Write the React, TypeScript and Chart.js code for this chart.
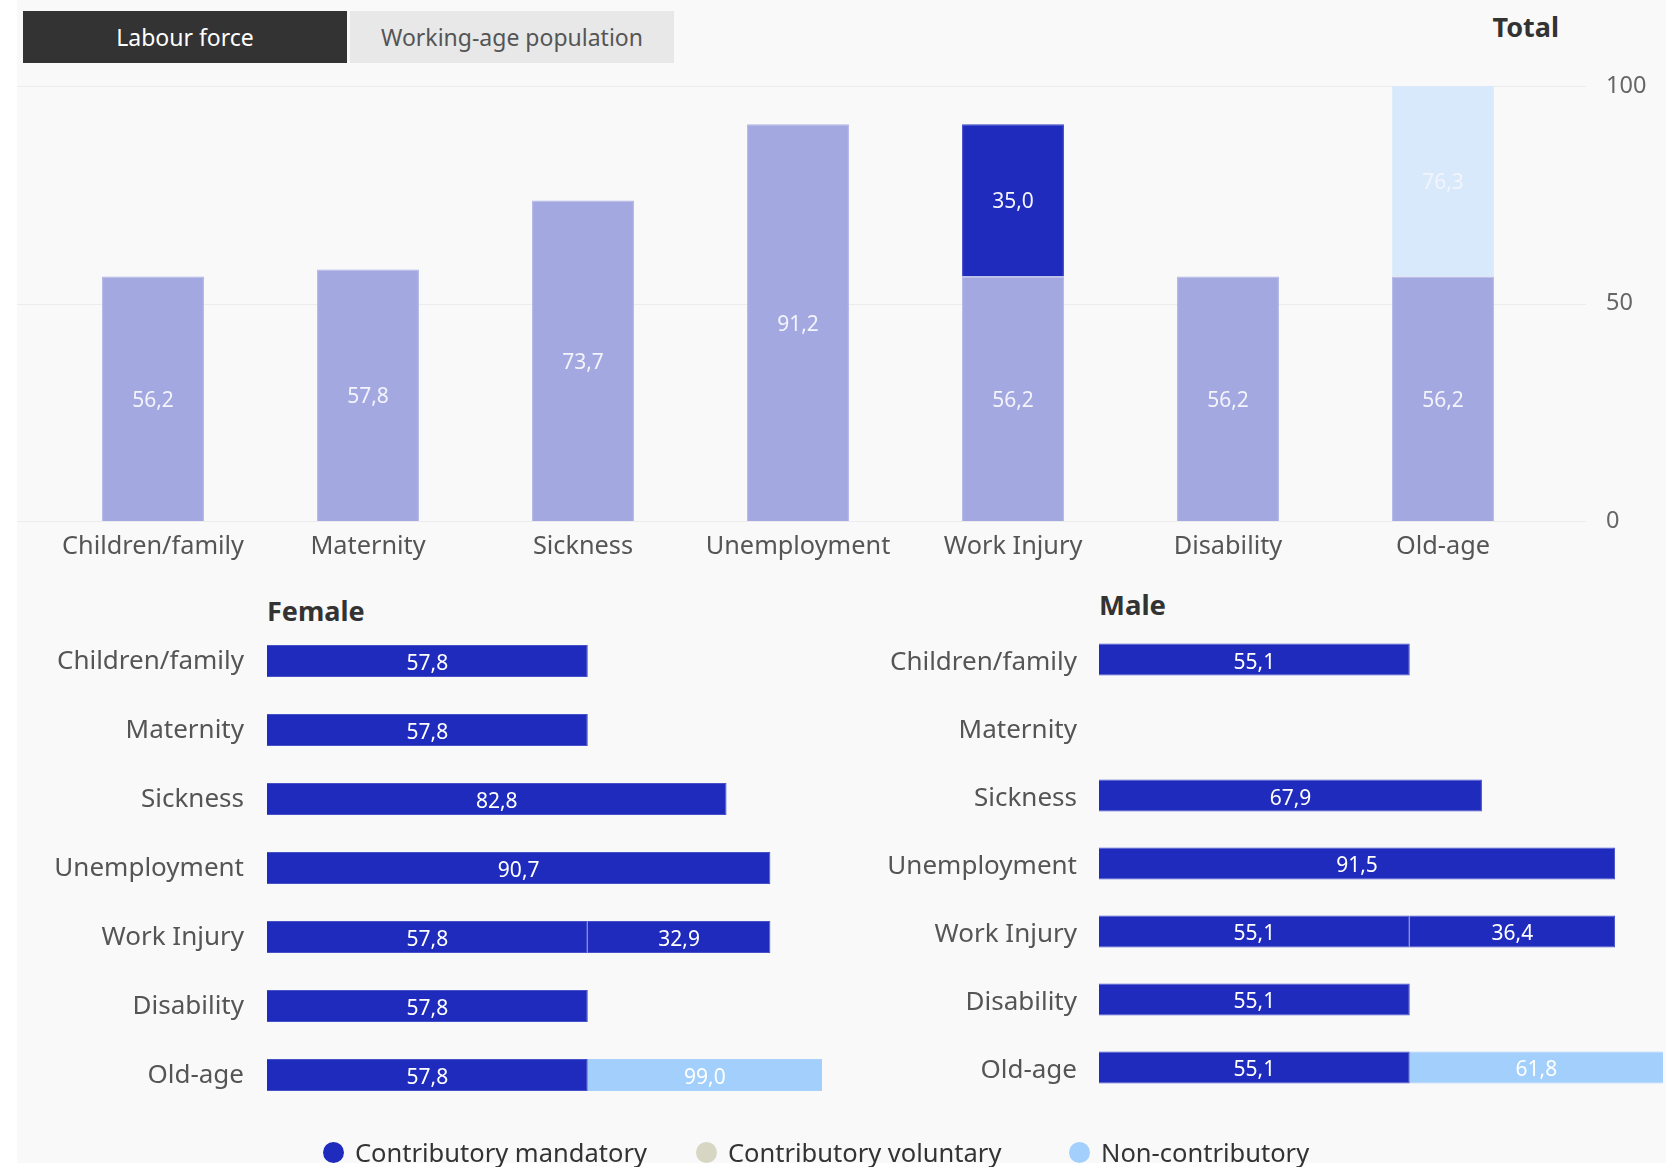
import React, { useEffect, useRef } from 'react';
import { Chart, registerables } from 'chart.js';

Chart.register(...registerables);

const FONT = "'Noto Sans', 'Open Sans', sans-serif";

// ---------- data ----------
const categories = ['Children/family', 'Maternity', 'Sickness', 'Unemployment', 'Work Injury', 'Disability', 'Old-age'];

const totalMandatory = [56.2, 57.8, 73.7, 91.2, 56.2, 56.2, 56.2];
const totalMandatoryExtra = [null, null, null, null, 35.0, null, null];
const totalNonContributory = [null, null, null, null, null, null, 76.3];
const totalTicks = [0, 50, 100];

const femaleMandatory = [57.8, 57.8, 82.8, 90.7, 57.8, 57.8, 57.8];
const femaleMandatoryExtra = [null, null, null, null, 32.9, null, null];
const femaleNonContributory = [null, null, null, null, null, null, 99.0];

const maleMandatory = [55.1, null, 67.9, 91.5, 55.1, 55.1, 55.1];
const maleMandatoryExtra = [null, null, null, null, 36.4, null, null];
const maleNonContributory = [null, null, null, null, null, null, 61.8];

const legendLabels = ['Contributory mandatory', 'Contributory voluntary', 'Non-contributory'];
const tabLabels = ['Labour force', 'Working-age population'];

// ---------- colours ----------
const C_MANDATORY = '#1f2bbd';
const C_MANDATORY_FADED = '#a3a8e1';
const C_VOLUNTARY = '#d6d6c2';
const C_NONCONTRIB = '#a2cffb';
const C_NONCONTRIB_FADED = '#d7e9fb';
const legendColors = [C_MANDATORY, C_VOLUNTARY, C_NONCONTRIB];

const fmt = (v: number) => v.toFixed(1).replace('.', ',');

const segmentLabels = {
  id: 'segmentLabels',
  afterDatasetsDraw(chart: any, _args: any, opts: any) {
    const { ctx, chartArea } = chart;
    const horizontal = chart.options.indexAxis === 'y';
    ctx.save();
    ctx.font = `${opts.size || 21}px ${FONT}`;
    ctx.fillStyle = opts.color || '#ffffff';
    ctx.textAlign = 'center';
    ctx.textBaseline = 'middle';
    chart.data.datasets.forEach((ds: any, di: number) => {
      const meta = chart.getDatasetMeta(di);
      meta.data.forEach((el: any, i: number) => {
        const v = ds.data[i];
        if (v == null) return;
        const p = el.getProps(['x', 'y', 'base'], true);
        let cx: number, cy: number;
        if (horizontal) {
          const a = Math.max(Math.min(p.x, p.base), chartArea.left);
          const b = Math.min(Math.max(p.x, p.base), chartArea.right);
          cx = (a + b) / 2;
          cy = p.y;
        } else {
          const a = Math.max(Math.min(p.y, p.base), chartArea.top);
          const b = Math.min(Math.max(p.y, p.base), chartArea.bottom);
          cx = p.x;
          cy = (a + b) / 2;
        }
        ctx.fillText(fmt(v), cx, cy + (opts.dy || 0));
      });
    });
    ctx.restore();
  },
};

const extendedGrid = {
  id: 'extendedGrid',
  beforeDatasetsDraw(chart: any, _args: any, opts: any) {
    const { ctx } = chart;
    const y = chart.scales.y;
    ctx.save();
    ctx.strokeStyle = opts.color;
    ctx.lineWidth = 1;
    y.ticks.forEach((t: any) => {
      const py = Math.round(y.getPixelForValue(t.value)) + 0.5;
      ctx.beginPath();
      ctx.moveTo(opts.left, py);
      ctx.lineTo(opts.right, py);
      ctx.stroke();
    });
    ctx.restore();
  },
};

function useChart(ref: React.RefObject<HTMLCanvasElement>, makeConfig: () => any) {
  useEffect(() => {
    if (!ref.current) return;
    const chart = new Chart(ref.current, makeConfig());
    return () => chart.destroy();
  }, []);
}

function barDs(label: string, data: (number | null)[], color: string, border: string) {
  return {
    label,
    data,
    backgroundColor: color,
    borderColor: border,
    borderWidth: 1,
    clip: 0,
  };
}

const noGrid = { display: false, drawTicks: false };

function TotalChart() {
  const ref = useRef<HTMLCanvasElement>(null);
  useChart(ref, () => ({
    type: 'bar',
    data: {
      labels: categories,
      datasets: [
        barDs('Contributory mandatory', totalMandatory, C_MANDATORY_FADED, '#b0b4e6'),
        barDs('Contributory mandatory (additional)', totalMandatoryExtra, C_MANDATORY, '#3a45c6'),
        barDs('Non-contributory', totalNonContributory, C_NONCONTRIB_FADED, '#dcecfb'),
      ],
    },
    options: {
      animation: false,
      responsive: false,
      devicePixelRatio: 1,
      layout: { padding: { left: 45.5, top: 86, right: 0, bottom: 0 } },
      datasets: { bar: { barPercentage: 0.474, categoryPercentage: 1 } },
      plugins: {
        legend: { display: false },
        tooltip: { enabled: false },
        title: { display: false },
        segmentLabels: { size: 21, color: '#f4f4fc', dy: 2 },
        extendedGrid: { left: 17, right: 1586, color: '#ececec' },
      },
      scales: {
        x: {
          stacked: true,
          grid: noGrid,
          border: { display: false },
          ticks: { color: '#555', font: { size: 25.3, family: FONT }, padding: 11, maxRotation: 0, autoSkip: false },
          afterFit(s: any) { s.height = 72; },
        },
        y: {
          position: 'right',
          stacked: true,
          min: totalTicks[0],
          max: totalTicks[totalTicks.length - 1],
          afterBuildTicks(s: any) { s.ticks = totalTicks.map((v) => ({ value: v })); },
          grid: noGrid,
          border: { display: false },
          ticks: { color: '#666', font: { size: 23.5, family: FONT }, padding: 55.5 },
          afterFit(s: any) { s.width = 121.5; },
        },
      },
    },
    plugins: [segmentLabels, extendedGrid],
  }));
  return <canvas ref={ref} width={1672} height={593} style={{ position: 'absolute', left: 0, top: 0 }} />;
}

function GenderChart(props: {
  left: number; top: number; width: number; height: number;
  axisWidth: number; tickPad: number; padRight: number; labelOffset: number;
  mandatory: (number | null)[]; extra: (number | null)[]; noncontrib: (number | null)[];
  barPct: number;
}) {
  const ref = useRef<HTMLCanvasElement>(null);
  useChart(ref, () => ({
    type: 'bar',
    data: {
      labels: categories,
      datasets: [
        barDs('Contributory mandatory', props.mandatory, C_MANDATORY, '#4650c9'),
        barDs('Contributory mandatory (additional)', props.extra, C_MANDATORY, '#4650c9'),
        barDs('Non-contributory', props.noncontrib, C_NONCONTRIB, '#a8d2fb'),
      ],
    },
    options: {
      indexAxis: 'y',
      animation: false,
      responsive: false,
      devicePixelRatio: 1,
      layout: { padding: { left: 0, right: props.padRight, top: 0, bottom: 0 } },
      datasets: { bar: { barPercentage: props.barPct, categoryPercentage: 1 } },
      plugins: {
        legend: { display: false },
        tooltip: { enabled: false },
        segmentLabels: { size: 21, color: '#ffffff', dy: 3 },
      },
      scales: {
        x: { display: false, stacked: true, min: 0, max: 100 },
        y: {
          stacked: true,
          grid: noGrid,
          border: { display: false },
          ticks: {
            color: '#555',
            font: { size: 26, family: FONT },
            padding: props.tickPad,
            labelOffset: props.labelOffset,
            autoSkip: false,
          },
          afterFit(s: any) { s.width = props.axisWidth; },
        },
      },
    },
    plugins: [segmentLabels],
  }));
  return (
    <canvas
      ref={ref}
      width={props.width}
      height={props.height}
      style={{ position: 'absolute', left: props.left, top: props.top }}
    />
  );
}

const abs = (left: number, top: number, extra: any = {}) => ({ position: 'absolute' as const, left, top, ...extra });

export default function App() {
  return (
    <div style={{ position: 'absolute', left: 0, top: 0, width: 1672, height: 1167, background: '#ffffff', overflow: 'hidden', fontFamily: FONT }}>
      <div style={abs(17, 0, { width: 1649, height: 1163, background: '#f9f9f9' })} />
      <div style={abs(23, 11, { width: 324, height: 52, background: '#333333', color: '#ffffff', fontSize: 23, lineHeight: '52px', textAlign: 'center' })}>{tabLabels[0]}</div>
      <div style={abs(350, 11, { width: 324, height: 52, background: '#e8e8e8', color: '#555555', fontSize: 23, lineHeight: '52px', textAlign: 'center' })}>{tabLabels[1]}</div>
      <div style={abs(1380, 11, { width: 179, fontSize: 27, fontWeight: 700, color: '#333', lineHeight: '32px', textAlign: 'right' })}>Total</div>

      <div style={abs(267, 595, { fontSize: 27, fontWeight: 700, color: '#333', lineHeight: '32px' })}>Female</div>
      <div style={abs(1099, 589, { fontSize: 27.5, fontWeight: 700, color: '#333', lineHeight: '32px' })}>Male</div>

      <TotalChart />

      <GenderChart
        left={0} top={587.9} width={850} height={560}
        axisWidth={267} tickPad={23} padRight={28} labelOffset={1}
        mandatory={femaleMandatory} extra={femaleMandatoryExtra} noncontrib={femaleNonContributory}
        barPct={0.464}
      />
      <GenderChart
        left={850} top={588.4} width={822} height={551}
        axisWidth={249} tickPad={22} padRight={9} labelOffset={3}
        mandatory={maleMandatory} extra={maleMandatoryExtra} noncontrib={maleNonContributory}
        barPct={0.47}
      />

      <div style={abs(323, 1136, { display: 'flex' })}>
        {legendLabels.map((l, i) => (
          <div key={l} style={{ width: 373, display: 'flex', alignItems: 'center', height: 32 }}>
            <span style={{ width: 21, height: 21, borderRadius: '50%', background: legendColors[i], display: 'inline-block', marginRight: 11 }} />
            <span style={{ fontSize: 25.5, color: '#333', lineHeight: '32px', whiteSpace: 'nowrap' }}>{l}</span>
          </div>
        ))}
      </div>
    </div>
  );
}
